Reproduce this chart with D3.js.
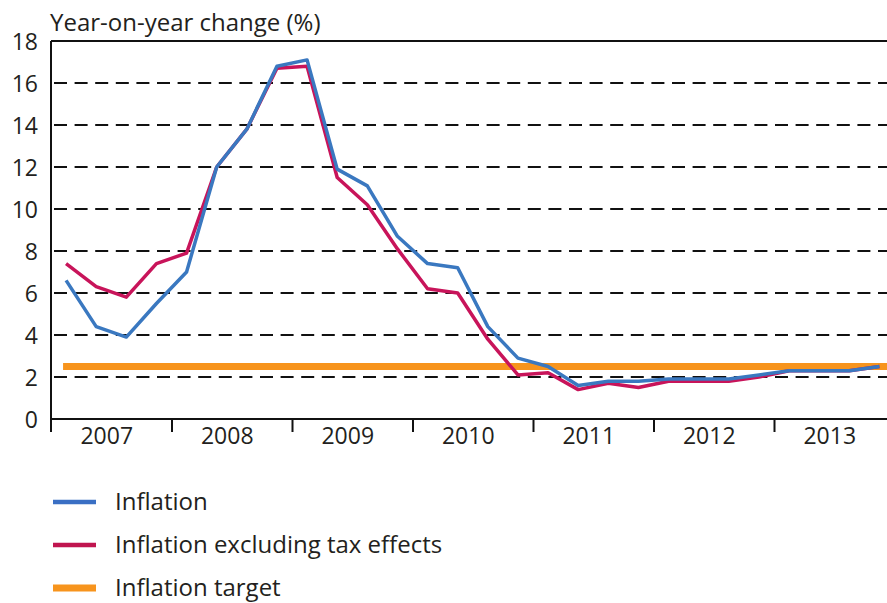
<!DOCTYPE html>
<html>
<head>
<meta charset="utf-8">
<script src="https://cdn.jsdelivr.net/npm/d3@7"></script>
<style>
  body { margin: 0; background: #fff; }
  svg { display: block; }
</style>
</head>
<body>
<div id="chartContainer"></div>
<script>
// quarterly data, 2007 Q1 .. 2013 Q4
const years = [2007, 2008, 2009, 2010, 2011, 2012, 2013]
const inflation = [6.6, 4.4, 3.9, 5.5, 7.0, 12.0, 13.8, 16.8, 17.1, 11.9, 11.1, 8.7, 7.4, 7.2,
  4.4, 2.9, 2.5, 1.6, 1.8, 1.8, 1.9, 1.9, 1.9, 2.1, 2.3, 2.3, 2.3, 2.5]
const inflationExTax = [7.4, 6.3, 5.8, 7.4, 7.9, 12.0, 13.8, 16.7, 16.8, 11.5, 10.2, 8.1, 6.2, 6.0,
  3.8, 2.1, 2.2, 1.4, 1.7, 1.5, 1.8, 1.8, 1.8, 2.0, 2.3, 2.3, 2.3, 2.5]
const target = 2.5
const yTicks = [0, 2, 4, 6, 8, 10, 12, 14, 16, 18]

const width = 887, height = 603
const margin = {top: 41, left: 51, bottom: 184}
const yearWidth = 120.5

const font = "'Open Sans', sans-serif"
const textColor = "#231f20"

const x = d3.scaleLinear()
    .domain([2007, 2014])
    .range([margin.left, margin.left + yearWidth * 7])

const y = d3.scaleLinear()
    .domain([0, 18])
    .range([height - margin.bottom + 0, margin.top])

// position of each quarter: middle of the quarter
const quarterPos = inflation.map((d, i) => years[0] + (i + 0.5) / 4)

const svg = d3.select('#chartContainer')
  .append('svg')
    .attr('width', width)
    .attr('height', height)
    .style('font-family', font)

// dashed grid
svg.append("g")
  .selectAll("line")
  .data(yTicks.filter(d => d > 0 && d < 18))
  .join("line")
    .attr("x1", margin.left)
    .attr("x2", width)
    .attr("y1", d => y(d))
    .attr("y2", d => y(d))
    .attr("stroke", "#111")
    .attr("stroke-width", 2)
    .attr("stroke-dasharray", "13,7.6")
    .attr("stroke-dashoffset", -3)

// top frame
svg.append("line")
    .attr("x1", margin.left).attr("x2", width)
    .attr("y1", y(18)).attr("y2", y(18))
    .attr("stroke", "#111").attr("stroke-width", 2)

// y axis
const yAxis = svg.append("g")
    .attr("transform", `translate(${margin.left},0)`)
    .call(d3.axisLeft(y).tickValues(yTicks).tickSize(0).tickPadding(13))
yAxis.select(".domain").remove()
yAxis.append("line")
    .attr("y1", y(18)).attr("y2", y(0) + 13)
    .attr("stroke", "#111").attr("stroke-width", 2)
yAxis.selectAll("text")
    .attr("font-family", font)
    .attr("font-size", 23)
    .attr("fill", textColor)
    .attr("dy", "0.36em")

// x axis ticks at year boundaries
const xAxis = svg.append("g")
    .attr("transform", `translate(0,${y(0)})`)
    .call(d3.axisBottom(x).tickValues(years.slice(1)).tickSize(13).tickFormat(""))
xAxis.select(".domain").remove()
xAxis.selectAll("line").attr("stroke", "#111").attr("stroke-width", 2)
xAxis.append("line")
    .attr("x1", margin.left - 1).attr("x2", width)
    .attr("stroke", "#111").attr("stroke-width", 2)

// year labels in the middle of each year
svg.append("g")
    .attr("transform", `translate(0,${y(0)})`)
    .call(d3.axisBottom(x).tickValues(years.map(d => d + 0.5)).tickSize(0).tickPadding(9)
      .tickFormat((d, i) => years[i]))
    .call(g => g.select(".domain").remove())
    .call(g => g.selectAll("text")
      .attr("dx", -5)
      .attr("font-family", font).attr("font-size", 23).attr("fill", textColor))

// title
svg.append("text")
    .attr("x", 50)
    .attr("y", 31)
    .attr("font-size", 24)
    .attr("fill", textColor)
    .text("Year-on-year change (%)")

const line = d3.line()
    .x((d, i) => x(quarterPos[i]))
    .y(d => y(d))

// inflation target
svg.append("line")
    .attr("x1", x(quarterPos[0]) - 3)
    .attr("x2", width)
    .attr("y1", y(target)).attr("y2", y(target))
    .attr("stroke", "#f7941d")
    .attr("stroke-width", 7)

svg.append("path")
    .datum(inflationExTax)
    .attr("fill", "none")
    .attr("stroke", "#c8145a")
    .attr("stroke-width", 3.5)
    .attr("stroke-linejoin", "round")
    .attr("d", line)

svg.append("path")
    .datum(inflation)
    .attr("fill", "none")
    .attr("stroke", "#3a78c0")
    .attr("stroke-width", 3.5)
    .attr("stroke-linejoin", "round")
    .attr("d", line)

// legend
const legendItems = [
  {label: "Inflation", color: "#3a6fc4", w: 4.5},
  {label: "Inflation excluding tax effects", color: "#c0154f", w: 4.5},
  {label: "Inflation target", color: "#f7941d", w: 7}
]

const legend = svg.append("g")
  .selectAll("g")
  .data(legendItems)
  .join("g")
    .attr("transform", (d, i) => `translate(53,${502 + i * 43})`)

legend.append("line")
    .attr("x1", 0).attr("x2", 43)
    .attr("stroke", d => d.color)
    .attr("stroke-width", d => d.w)

legend.append("text")
    .attr("x", 62)
    .attr("dy", "0.35em")
    .attr("font-size", 24)
    .attr("fill", textColor)
    .text(d => d.label)
</script>
</body>
</html>
